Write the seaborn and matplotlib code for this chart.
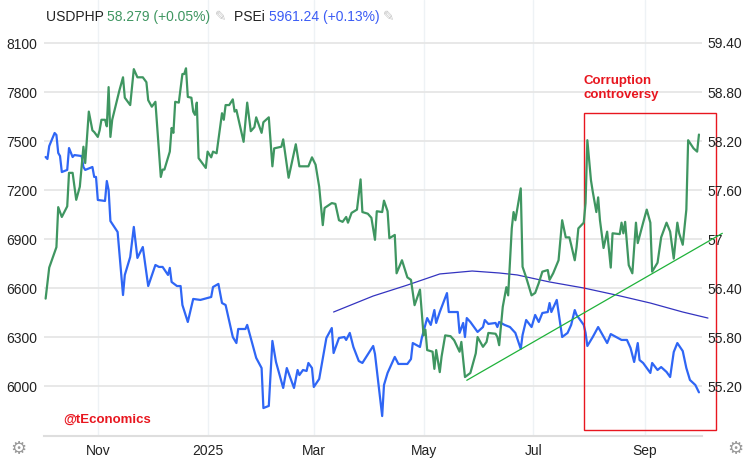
import matplotlib
matplotlib.use("Agg")
import numpy as np
import pandas as pd
import matplotlib.pyplot as plt
import matplotlib.dates as mdates
from matplotlib.patches import Rectangle
import seaborn as sns

# day offsets are counted from this date
start = pd.Timestamp("2024-10-01")

# PSEi (left axis)
psei_days = [2, 3, 4, 7, 8, 9, 10, 11, 14, 15,
             17, 18, 22, 23, 24, 28, 29, 30, 31, 35,
             36, 37, 38, 42, 45, 46, 49, 51, 53, 56,
             59, 63, 65, 67, 70, 71, 72, 75, 77, 78,
             81, 84, 88, 94, 95, 98, 100, 102, 106, 108,
             109, 113, 114, 116, 119, 122, 123, 126, 128, 130,
             134, 136, 140, 142, 143, 145, 147, 148, 150, 151,
             154, 158, 161, 162, 165, 168, 169, 171, 173, 176,
             178, 184, 185, 189, 190, 192, 196, 198, 203, 205,
             206, 208, 210, 211, 214, 216, 218, 219, 221, 225,
             226, 231, 232, 234, 235, 236, 238, 242, 245, 246,
             248, 252, 253, 254, 257, 260, 263, 266, 267, 269,
             272, 274, 276, 278, 281, 282, 283, 286, 289, 292,
             294, 296, 297, 301, 302, 303, 306, 309, 314, 316,
             319, 322, 325, 327, 329, 331, 332, 334, 338, 339,
             342, 344, 347, 349, 351, 353, 356, 358, 360, 363,
             365]
psei_vals = [7402, 7390, 7469, 7549, 7537, 7427, 7408, 7310, 7323, 7457,
             7402, 7414, 7408, 7341, 7323, 7341, 7280, 7280, 7139, 7133,
             7255, 7200, 7010, 6943, 6557, 6680, 6790, 6974, 6784, 6851,
             6612, 6741, 6729, 6729, 6680, 6723, 6637, 6612, 6612, 6496,
             6392, 6533, 6527, 6545, 6606, 6625, 6508, 6496, 6300, 6263,
             6349, 6349, 6374, 6294, 6172, 6110, 5865, 5878, 6276, 6147,
             5988, 6110, 5988, 6098, 6067, 6098, 6092, 6141, 6110, 5994,
             6043, 6294, 6355, 6202, 6294, 6300, 6282, 6325, 6239, 6153,
             6141, 6245, 6196, 5816, 6006, 6080, 6178, 6135, 6135, 6165,
             6263, 6251, 6239, 6294, 6416, 6374, 6465, 6386, 6453, 6569,
             6453, 6453, 6325, 6386, 6300, 6416, 6392, 6331, 6361, 6404,
             6380, 6386, 6361, 6392, 6374, 6361, 6325, 6227, 6312, 6404,
             6361, 6435, 6392, 6447, 6453, 6508, 6453, 6527, 6300, 6325,
             6374, 6465, 6435, 6374, 6325, 6245, 6300, 6361, 6263, 6318,
             6300, 6282, 6282, 6233, 6147, 6263, 6159, 6141, 6080, 6141,
             6098, 6116, 6086, 6055, 6208, 6263, 6214, 6110, 6037, 6006,
             5961.24]

# USDPHP (right axis)
php_days = [2, 4, 8, 9, 11, 14, 15, 17, 19, 21,
            23, 24, 26, 28, 29, 31, 32, 33, 35, 36,
            37, 38, 39, 43, 45, 46, 49, 51, 53, 56,
            58, 59, 61, 63, 66, 67, 68, 71, 72, 73,
            74, 76, 78, 79, 80, 81, 83, 84, 85, 86,
            87, 89, 91, 92, 94, 95, 97, 100, 101, 102,
            104, 106, 107, 108, 112, 114, 116, 118, 119, 122,
            123, 126, 128, 129, 133, 134, 137, 141, 143, 148,
            150, 152, 154, 156, 157, 161, 163, 165, 167, 169,
            170, 172, 175, 177, 178, 181, 183, 185, 186, 189,
            190, 192, 193, 196, 197, 200, 203, 205, 207, 210,
            212, 213, 214, 217, 218, 219, 221, 222, 224, 227,
            229, 232, 233, 235, 238, 241, 242, 245, 247, 248,
            252, 253, 254, 256, 257, 258, 259, 261, 262, 263,
            266, 267, 269, 272, 274, 276, 278, 281, 282, 284,
            287, 288, 289, 291, 293, 294, 296, 297, 298, 301,
            302, 303, 305, 306, 308, 309, 310, 312, 314, 316,
            317, 321, 322, 323, 324, 326, 328, 330, 331, 334,
            336, 338, 339, 342, 344, 347, 349, 351, 353, 354,
            356, 358, 359, 362, 364, 365]
php_vals = [56.27, 56.65, 56.90, 57.39, 57.27, 57.40, 57.81, 57.81, 57.48, 57.64,
            58.13, 57.93, 58.56, 58.33, 58.31, 58.25, 58.33, 58.46, 58.46, 58.38,
            58.86, 58.25, 58.46, 58.82, 58.98, 58.73, 58.64, 59.08, 58.98, 58.98,
            58.92, 58.70, 58.62, 58.68, 57.76, 57.85, 57.85, 58.07, 58.36, 58.30,
            58.68, 58.67, 59.02, 59.02, 59.09, 58.74, 58.73, 58.56, 58.52, 58.67,
            57.99, 57.93, 57.87, 58.07, 58.00, 58.07, 58.05, 58.54, 58.46, 58.64,
            58.64, 58.71, 58.56, 58.58, 58.19, 58.67, 58.32, 58.37, 58.49, 58.30,
            58.43, 58.49, 57.89, 58.11, 58.13, 58.22, 57.75, 58.16, 57.89, 57.89,
            58.00, 57.91, 57.64, 57.17, 57.38, 57.44, 57.43, 57.23, 57.21, 57.27,
            57.20, 57.32, 57.36, 57.73, 57.33, 57.31, 57.26, 56.99, 57.34, 57.33,
            57.47, 57.34, 57.01, 57.05, 56.58, 56.74, 56.53, 56.50, 56.19, 56.38,
            55.82, 55.89, 55.64, 55.62, 55.41, 55.64, 55.37, 55.56, 55.82, 55.81,
            55.76, 55.62, 55.74, 55.31, 55.36, 55.60, 55.80, 55.68, 55.74, 55.85,
            55.84, 55.80, 55.70, 56.17, 56.29, 56.41, 56.31, 57.13, 57.33, 57.23,
            57.62, 56.66, 56.53, 56.31, 56.34, 56.46, 56.60, 56.62, 56.50, 56.58,
            56.74, 56.99, 57.23, 57.02, 57.02, 56.93, 56.74, 56.90, 57.13, 57.20,
            57.44, 58.21, 57.72, 57.58, 57.33, 57.51, 57.23, 56.89, 57.09, 56.65,
            57.07, 57.06, 57.20, 57.07, 57.21, 56.68, 56.58, 57.20, 56.95, 57.20,
            57.36, 57.20, 56.60, 56.71, 57.02, 57.20, 57.09, 56.76, 57.20, 57.07,
            56.93, 57.36, 58.21, 58.11, 58.07, 58.279]

# hand drawn trend lines
psei_trend_days = [162, 184, 203, 221, 239, 254, 264, 282, 301, 319, 338, 356, 370]
psei_trend_vals = [6453, 6551, 6618, 6686, 6704, 6692, 6680, 6637, 6600, 6557, 6508, 6453, 6416]
php_trend_days = [236, 378]
php_trend_vals = [55.27, 57.07]

# annotation box (days, PSEi units)
box_days = [301, 374.4]
box_vals = [5731, 7671]

left_ticks = [6000, 6300, 6600, 6900, 7200, 7500, 7800, 8100]
right_ticks = [55.2, 55.8, 56.4, 57.0, 57.6, 58.2, 58.8, 59.4]
right_labels = ["55.20", "55.80", "56.40", "57", "57.60", "58.20", "58.80", "59.40"]
month_ticks = ["2024-11-01", "2025-01-01", "2025-03-01", "2025-05-01", "2025-07-01", "2025-09-01"]
month_labels = ["Nov", "2025", "Mar", "May", "Jul", "Sep"]

blue = "#2f66f5"
green = "#3f9661"
red = "#e8161f"


def to_dates(days):
    return start + pd.to_timedelta(np.array(days, dtype=float), unit="D")


sns.set_theme(style="white")
plt.rcParams["font.family"] = ["Liberation Sans", "DejaVu Sans"]

fig = plt.figure(figsize=(7.49, 4.63), dpi=100)
ax = fig.add_axes([44 / 749, 27 / 463, 658 / 749, 436 / 463])
ax2 = ax.twinx()

sns.lineplot(x=to_dates(psei_days), y=psei_vals, ax=ax, color=blue, linewidth=1.6)
sns.lineplot(x=to_dates(psei_trend_days), y=psei_trend_vals, ax=ax, color="#3434c0",
             linewidth=0.9)
ax.lines[-1].set_clip_on(False)

sns.lineplot(x=to_dates(php_days), y=php_vals, ax=ax2, color=green, linewidth=1.6)
sns.lineplot(x=to_dates(php_trend_days), y=php_trend_vals, ax=ax2, color="#1fb23a",
             linewidth=0.9)
ax2.lines[-1].set_clip_on(False)

# axis ranges
ax.set_xlim(start + pd.Timedelta(days=1.1), start + pd.Timedelta(days=366.7))
ax.set_ylim(5693.9, 8363.3)
ax2.set_ylim(54.588, 59.9265)

ax.set_yticks(left_ticks)
ax.set_yticklabels([str(t) for t in left_ticks])
ax2.set_yticks(right_ticks)
ax2.set_yticklabels(right_labels)
ax.set_xticks(pd.to_datetime(month_ticks))
ax.set_xticklabels(month_labels)
for a in (ax, ax2):
    a.set_xlabel("")
    a.set_ylabel("")
    for s in a.spines.values():
        s.set_visible(False)
ax.spines["bottom"].set_visible(True)
ax.spines["bottom"].set_color("#dedede")
ax.spines["bottom"].set_linewidth(1.5)

ax.tick_params(axis="y", length=0, pad=5, labelsize=10, labelcolor="#222222")
ax2.tick_params(axis="y", length=0, pad=4, labelsize=10, labelcolor="#222222")
ax.tick_params(axis="x", length=0, pad=6, labelsize=10, labelcolor="#222222")

ax.set_axisbelow(True)
ax.grid(axis="y", color="#e6e6e6", linewidth=1.3)
ax.grid(axis="x", color="#eef2f5", linewidth=1.0)
ax2.grid(False)

# annotation box and label
x0 = mdates.date2num(start + pd.Timedelta(days=box_days[0]))
x1 = mdates.date2num(start + pd.Timedelta(days=box_days[1]))
ax.add_patch(Rectangle((x0, box_vals[0]), x1 - x0, box_vals[1] - box_vals[0],
                       fill=False, edgecolor=red, linewidth=1.0, clip_on=False, zorder=5))
ax.text(x0, 7905, "Corruption\ncontroversy", color=red, fontsize=9.5, fontweight="bold",
        ha="left", va="top", linespacing=1.2)

ax.text(0.030, 0.037, "@tEconomics", transform=ax.transAxes, color=red, fontsize=9.5,
        fontweight="bold", ha="left", va="center")

# legend row at the top
t = ax.text(0.003, 0.945, "USDPHP ", transform=ax.transAxes, fontsize=10,
            color="#222222", ha="left", va="bottom")
for txt, col in [("58.279 (+0.05%)", green), (" \u270e  ", "#c4c4c4"),
                 ("PSEi ", "#222222"), ("5961.24 (+0.13%)", "#3b5cf5"),
                 (" \u270e", "#c4c4c4")]:
    t = ax.annotate(txt, xy=(1, 0), xycoords=t, fontsize=10, color=col,
                    ha="left", va="bottom")

# gear icons in the corners
fig.text(18 / 749, 1 - 449 / 463, "\u2699", fontsize=13, color="#9a9a9a",
         ha="center", va="center", family="DejaVu Sans")
fig.text(735 / 749, 1 - 449 / 463, "\u2699", fontsize=13, color="#9a9a9a",
         ha="center", va="center", family="DejaVu Sans")

fig.savefig("out.png", dpi=100)
